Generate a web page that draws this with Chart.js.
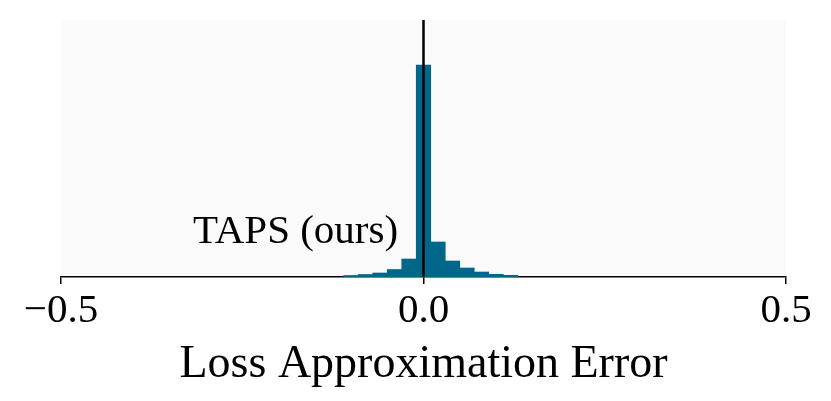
<!DOCTYPE html>
<html>
<head>
<meta charset="utf-8">
<script src="https://cdn.jsdelivr.net/npm/chart.js@4"></script>
<style>
  html, body { margin: 0; padding: 0; background: #ffffff; }
  #wrap { width: 831px; height: 401px; }
</style>
</head>
<body>
<div id="wrap"><canvas id="histChart"></canvas></div>
<script>
// histogram bins (centres, width 0.02) and bar heights
const binCenters = [-0.10, -0.08, -0.06, -0.04, -0.02, 0.00, 0.02, 0.04, 0.06, 0.08, 0.10, 0.12];
const binCounts  = [1.5, 2.5, 4, 7.5, 18, 212, 35, 16, 9, 5, 2.7, 1.7];
const xTicks = [-0.5, 0.0, 0.5];
const yMax = 257;
const labelText = 'TAPS (ours)';
const axisTitle = 'Loss Approximation Error';

const serif = "'Liberation Serif', 'DejaVu Serif', serif";

function fmtTick(v) {
    const s = Math.abs(v).toFixed(1);
    return v < -1e-9 ? '\u2212' + s : s;
}

const plotBg = {
    id: 'plotBg',
    beforeDraw(chart) {
        const a = chart.chartArea;
        const ctx = chart.ctx;
        ctx.save();
        ctx.fillStyle = '#fafafa';
        ctx.fillRect(a.left, a.top, a.right - a.left, a.bottom - a.top);
        ctx.restore();
    },
    afterDatasetsDraw(chart) {
        const ctx = chart.ctx;
        const x = chart.scales.x;
        const y = chart.scales.y;
        ctx.save();
        ctx.font = '41px ' + serif;
        ctx.fillStyle = '#000000';
        ctx.textAlign = 'right';
        ctx.textBaseline = 'alphabetic';
        ctx.fillText(labelText, x.getPixelForValue(-0.035), y.getPixelForValue(34));
        ctx.restore();
    }
};

document.addEventListener("DOMContentLoaded", function() {
    const ctx = document.getElementById('histChart').getContext('2d');
    new Chart(ctx, {
        type: 'bar',
        data: {
            datasets: [{
                type: 'line',
                data: [{x: 0, y: 0}, {x: 0, y: yMax}],
                borderColor: '#000000',
                borderWidth: 2.5,
                pointRadius: 0,
                order: 0
            }, {
                type: 'bar',
                data: binCenters.map((c, i) => ({x: c, y: binCounts[i]})),
                backgroundColor: '#00668a',
                borderWidth: 0,
                barPercentage: 1.0,
                categoryPercentage: 1.0,
                order: 1
            }]
        },
        options: {
            responsive: true,
            maintainAspectRatio: false,
            animation: false,
            events: [],
            layout: { padding: { left: 61, right: 45, top: 20, bottom: 0 } },
            plugins: { legend: { display: false }, tooltip: { enabled: false } },
            scales: {
                x: {
                    type: 'linear',
                    min: xTicks[0],
                    max: xTicks[xTicks.length - 1],
                    offset: false,
                    afterFit: scale => { scale.height = 124; },
                    grid: {
                        offset: false,
                        drawOnChartArea: false,
                        drawTicks: true,
                        tickLength: 7,
                        color: '#000000',
                        lineWidth: 1.5
                    },
                    border: { display: true, color: '#000000', width: 1.5 },
                    ticks: {
                        stepSize: xTicks[1] - xTicks[0],
                        autoSkip: false,
                        color: '#000000',
                        font: { family: serif, size: 41 },
                        padding: 3,
                        maxRotation: 0,
                        callback: v => fmtTick(v)
                    },
                    title: {
                        display: true,
                        text: axisTitle,
                        color: '#000000',
                        font: { family: serif, size: 46 },
                        padding: { top: 0, bottom: 8 }
                    }
                },
                y: {
                    display: false,
                    min: 0,
                    max: yMax
                }
            }
        },
        plugins: [plotBg]
    });
});
</script>
</body>
</html>
